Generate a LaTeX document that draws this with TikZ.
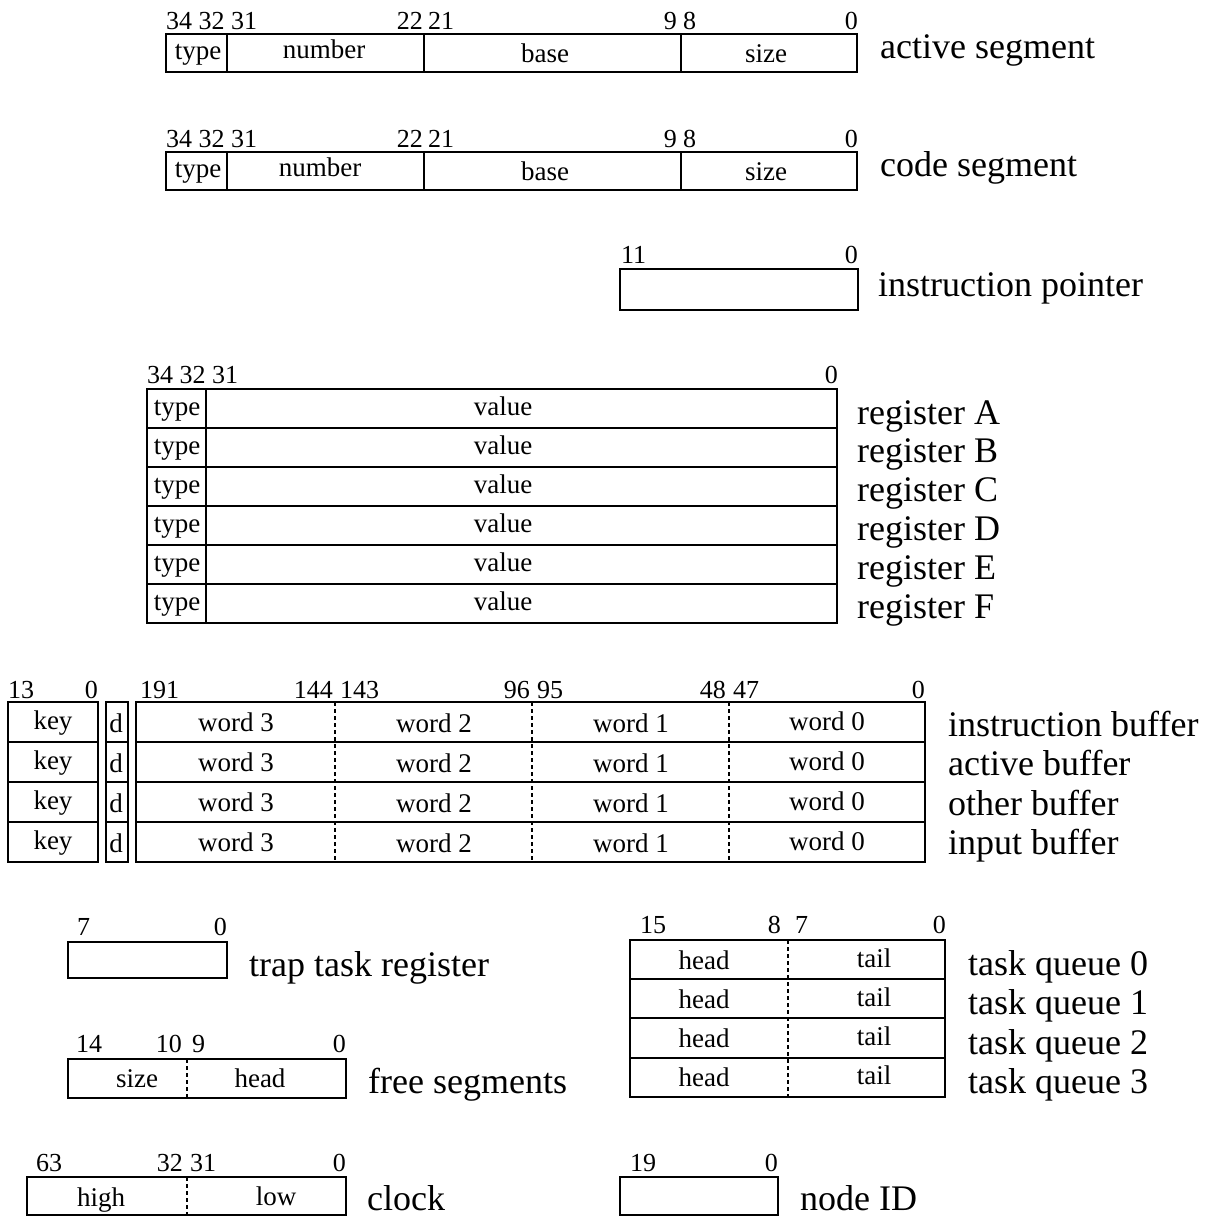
\documentclass[tikz,border=0pt]{standalone}
\usepackage{fontspec}
\setmainfont{Liberation Serif}
\begin{document}
\begin{tikzpicture}[x=1pt,y=-1pt,line join=miter,
  box/.style={line width=2.6pt},
  dsh/.style={line width=2.4pt,dash pattern=on 4pt off 3pt},
  big/.style={font=\fontsize{36}{40}\selectfont,inner sep=0pt,anchor=base west},
  fld/.style={font=\fontsize{27}{30}\selectfont,inner sep=0pt,anchor=base},
  bit/.style={font=\fontsize{26}{30}\selectfont,inner sep=0pt},
  bitl/.style={bit,anchor=base west},
  bitr/.style={bit,anchor=base east}]
\useasboundingbox (0,0) rectangle (1205,1217);

% ---------- active segment ----------
\draw[box] (166,34) rectangle (857,72);
\draw[box] (227,34)--(227,72) (424,34)--(424,72) (681,34)--(681,72);
\node[bitl] (as34) at (166,30) {34 32 31};
\node[bitr] (as22) at (423,30) {22};
\node[bitl] (as21) at (428,30) {21};
\node[bitr] (as9) at (677,30) {9};
\node[bitl] (as8) at (683,30) {8};
\node[bitr] (as0) at (858,30) {0};
\node[fld] (astype) at (198,60) {type};
\node[fld] (asnum) at (324,59) {number};
\node[fld] (asbase) at (545,63) {base};
\node[fld] (assize) at (766,63) {size};
\node[big] (aslbl) at (880,59) {active segment};

% ---------- code segment ----------
\draw[box] (166,152) rectangle (857,190);
\draw[box] (227,152)--(227,190) (424,152)--(424,190) (681,152)--(681,190);
\node[bitl] (cs34) at (166,148) {34 32 31};
\node[bitr] (cs22) at (423,148) {22};
\node[bitl] (cs21) at (428,148) {21};
\node[bitr] (cs9) at (677,148) {9};
\node[bitl] (cs8) at (683,148) {8};
\node[bitr] (cs0) at (858,148) {0};
\node[fld] (cstype) at (198,178) {type};
\node[fld] (csnum) at (320,177) {number};
\node[fld] (csbase) at (545,181) {base};
\node[fld] (cssize) at (766,181) {size};
\node[big] (cslbl) at (880,177) {code segment};

% ---------- instruction pointer ----------
\draw[box] (620,269) rectangle (858,310);
\node[bitl] (ip11) at (621,263) {11};
\node[bitr] (ip0) at (858,263) {0};
\node[big] (iplbl) at (878,296) {instruction pointer};

% ---------- registers ----------
\draw[box] (147,389) rectangle (837,623);
\foreach \i in {1,...,5} \draw[box] (147,389+39*\i) -- (837,389+39*\i);
\draw[box] (206,389)--(206,623);
\node[bitl] (rg34) at (147,383) {34 32 31};
\node[bitr] (rg0) at (838,383) {0};
\foreach \i/\l in {0/A,1/B,2/C,3/D,4/E,5/F} {
  \node[fld] (rtype\l) at (177,415+39*\i) {type};
  \node[fld] (rval\l) at (503,415+39*\i) {value};
  \node[big] (rlbl\l) at (857,424+38.8*\i) {register \l};
}

% ---------- buffers ----------
\draw[box] (8,702) rectangle (98,862);
\draw[box] (106,702) rectangle (128,862);
\draw[box] (136,702) rectangle (925,862);
\foreach \y in {742,782,822} {
  \draw[box] (8,\y)--(98,\y) (106,\y)--(128,\y) (136,\y)--(925,\y);
}
\foreach \x in {335,532,729} \draw[dsh] (\x,702)--(\x,862);
\node[bitl] (b13) at (8,698) {13};
\node[bitr] (bk0) at (98,698) {0};
\node[bitl] (b191) at (140,698) {191};
\node[bitr] (b144) at (333,698) {144};
\node[bitl] (b143) at (340,698) {143};
\node[bitr] (b96) at (530,698) {96};
\node[bitl] (b95) at (537,698) {95};
\node[bitr] (b48) at (726,698) {48};
\node[bitl] (b47) at (733,698) {47};
\node[bitr] (bw0) at (925,698) {0};
\foreach \i/\l in {0/instruction,1/active,2/other,3/input} {
  \node[fld] (bkey\i) at (53,729+40*\i) {key};
  \node[fld] (bd\i) at (116,732+40*\i) {d};
  \node[fld] (bwa\i) at (236,731+40*\i) {word 3};
  \node[fld] (bwb\i) at (434,732+40*\i) {word 2};
  \node[fld] (bwc\i) at (631,732+40*\i) {word 1};
  \node[fld] (bwd\i) at (827,730+40*\i) {word 0};
  \node[big] (blbl\i) at (948,736+39.5*\i) {\l\ buffer};
}

% ---------- trap task register ----------
\draw[box] (68,942) rectangle (227,978);
\node[bitl] (tt7) at (77,935) {7};
\node[bitr] (tt0) at (227,935) {0};
\node[big] (ttlbl) at (249,976) {trap task register};

% ---------- free segments ----------
\draw[box] (68,1059) rectangle (346,1098);
\draw[dsh] (187,1059)--(187,1098);
\node[bitl] (fs14) at (76,1052) {14};
\node[bitr] (fs10) at (182,1052) {10};
\node[bitl] (fs9) at (192,1052) {9};
\node[bitr] (fs0) at (346,1052) {0};
\node[fld] (fssize) at (137,1087) {size};
\node[fld] (fshead) at (260,1087) {head};
\node[big] (fslbl) at (368,1093) {free segments};

% ---------- task queues ----------
\draw[box] (630,940) rectangle (945,1097);
\foreach \y in {979,1018,1058} \draw[box] (630,\y)--(945,\y);
\draw[dsh] (788,940)--(788,1097);
\node[bitl] (tq15) at (640,933) {15};
\node[bitr] (tq8) at (781,933) {8};
\node[bitl] (tq7) at (795,933) {7};
\node[bitr] (tq0) at (946,933) {0};
\foreach \i in {0,1,2,3} {
  \node[fld] (tqh\i) at (704,969+39.25*\i) {head};
  \node[fld] (tqt\i) at (874,967+39.25*\i) {tail};
  \node[big] (tqlbl\i) at (968,975+39.5*\i) {task queue \i};
}

% ---------- clock ----------
\draw[box] (27,1177) rectangle (346,1215);
\draw[dsh] (187,1177)--(187,1215);
\node[bitl] (ck63) at (36,1171) {63};
\node[bitr] (ck32) at (183,1171) {32};
\node[bitl] (ck31) at (190,1171) {31};
\node[bitr] (ck0) at (346,1171) {0};
\node[fld] (ckhigh) at (101,1206) {high};
\node[fld] (cklow) at (276,1205) {low};
\node[big,text depth=0pt] (cklbl) at (367,1210) {clock};

% ---------- node ID ----------
\draw[box] (620,1177) rectangle (778,1215);
\node[bitl] (nd19) at (630,1171) {19};
\node[bitr] (nd0) at (778,1171) {0};
\node[big,text depth=0pt] (ndlbl) at (800,1210) {node ID};
\end{tikzpicture}
\end{document}
